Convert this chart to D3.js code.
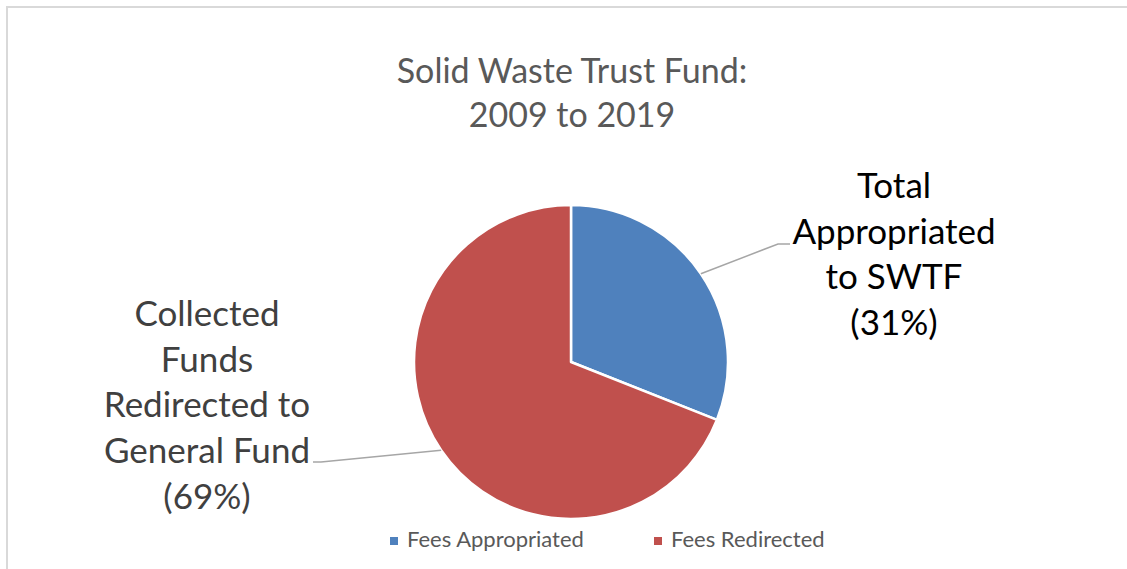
<!DOCTYPE html>
<html>
<head>
<meta charset="utf-8">
<script src="https://cdn.jsdelivr.net/npm/d3@7"></script>
<style>
  body { margin: 0; background: #fff; }
  svg { display: block; font-family: Lato, "Open Sans", sans-serif; }
</style>
</head>
<body>
<div id="chart"></div>
<script>
// data
var categories = ["Fees Appropriated", "Fees Redirected"];
var shares = [31, 69];
var colors = ["#4f81bd", "#c0504d"];
var titleLines = ["Solid Waste Trust Fund:", "2009 to 2019"];
var labelLines = [
  ["Total", "Appropriated", "to SWTF", "(31%)"],
  ["Collected", "Funds", "Redirected to", "General Fund", "(69%)"]
];

var width = 1127, height = 569;

var svg = d3.select("#chart").append("svg")
  .attr("width", width)
  .attr("height", height);

// chart border (right and bottom fall outside the picture)
svg.append("path")
  .attr("d", "M7,569 L7,7 L1127,7")
  .attr("fill", "none")
  .attr("stroke", "#d9d9d9")
  .attr("stroke-width", 2);

// title
svg.append("g").selectAll("text")
  .data(titleLines)
  .enter().append("text")
  .attr("x", 572)
  .attr("y", function(d, i) { return 83 + i * 44; })
  .attr("text-anchor", "middle")
  .attr("font-size", 34)
  .attr("fill", "#595959")
  .text(function(d) { return d; });

// pie
var cx = 571, cy = 362, r = 157;
var pie = d3.pie().sort(null).value(function(d) { return d; });
var arc = d3.arc().innerRadius(0).outerRadius(r);
var arcs = pie(shares);

var g = svg.append("g").attr("transform", "translate(" + cx + "," + cy + ")");
g.selectAll("path")
  .data(arcs)
  .enter().append("path")
  .attr("d", arc)
  .attr("fill", function(d, i) { return colors[i]; })
  .attr("stroke", "#fff")
  .attr("stroke-width", 2.5)
  .attr("stroke-linejoin", "round");

// leader lines: from the middle of each slice's arc to its label
var leaderEnds = [
  [[778, 244], [790, 244]],
  [[321, 462], [313, 462]]
];
var lineGen = d3.line();
arcs.forEach(function(d, i) {
  var a = (d.startAngle + d.endAngle) / 2;
  var p = [cx + r * Math.sin(a), cy - r * Math.cos(a)];
  svg.append("path")
    .attr("d", lineGen([p].concat(leaderEnds[i])))
    .attr("fill", "none")
    .attr("stroke", "#a6a6a6")
    .attr("stroke-width", 1.5);
});

// data labels
var labelPos = [
  { x: 894, y: 198, fill: "#000000" },
  { x: 207, y: 326, fill: "#404040" }
];
labelLines.forEach(function(lines, i) {
  svg.append("g").selectAll("text")
    .data(lines)
    .enter().append("text")
    .attr("x", labelPos[i].x)
    .attr("y", function(d, j) { return labelPos[i].y + j * 45.7; })
    .attr("text-anchor", "middle")
    .attr("font-size", 35)
    .attr("fill", labelPos[i].fill)
    .text(function(d) { return d; });
});

// legend
var legendX = [390, 654];
var legend = svg.append("g").selectAll("g")
  .data(categories)
  .enter().append("g")
  .attr("transform", function(d, i) { return "translate(" + legendX[i] + ",537)"; });
legend.append("rect")
  .attr("width", 8).attr("height", 8)
  .attr("fill", function(d, i) { return colors[i]; });
legend.append("text")
  .attr("x", 17)
  .attr("y", 10)
  .attr("font-size", 22)
  .attr("fill", "#595959")
  .text(function(d) { return d; });
</script>
</body>
</html>
